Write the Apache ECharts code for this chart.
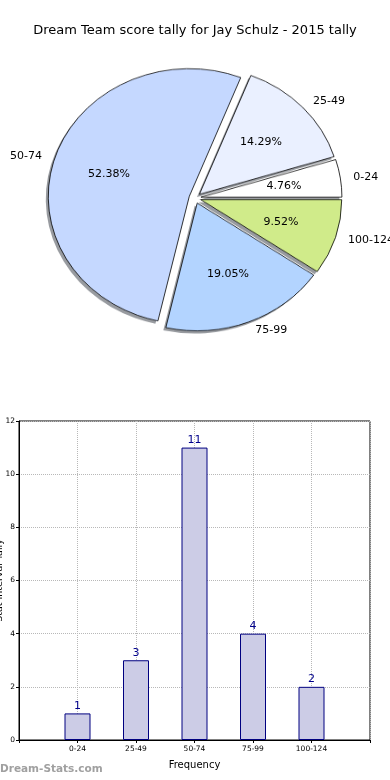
<!DOCTYPE html>
<html><head><meta charset="utf-8">
<script src="https://cdn.jsdelivr.net/npm/echarts@6/dist/echarts.min.js"></script>
<style>
html,body{margin:0;padding:0;background:#fff}
#wrap{position:relative;width:390px;height:780px}
#pie{position:absolute;left:0;top:0;width:390px;height:400px;transform:scaleY(0.906);transform-origin:0 198px}
#c{position:absolute;left:0;top:0;width:390px;height:780px}
</style>
</head><body><div id="wrap"><div id="pie"></div><div id="c"></div></div>
<script>
const titleText = 'Dream Team score tally for Jay Schulz - 2015 tally';
const categories = ['0-24', '25-49', '50-74', '75-99', '100-124'];
const counts = [1, 3, 11, 4, 2];
const pieColors = ['#ffffff', '#eaf0ff', '#c5d8ff', '#b3d4ff', '#d0eb8a'];
const yTicks = [0, 2, 4, 6, 8, 10, 12];
const xAxisTitle = 'Frequency';
const yAxisTitle = 'Stat Interval Tally';
const watermark = 'Dream-Stats.com';

const total = counts.reduce((a, b) => a + b, 0);
const FONT = 'DejaVu Sans';
const R = 141;
const CX = 195;
const CY = 198;
const CENTER = [CX, CY];
const KY = 0.906;   // vertical squash of the pie (drawn as ellipse)
const OFFSET = 6;

const pieBase = {
  type: 'pie', radius: R, startAngle: 0, clockwise: false,
  selectedMode: 'multiple', selectedOffset: OFFSET,
  avoidLabelOverlap: false, silent: true,
  label: { show: false }, labelLine: { show: false },
  emphasis: { disabled: true }
};

// Pie slices (drawn in a vertically squashed layer)
const pieChart = echarts.init(document.getElementById('pie'), null, { renderer: 'canvas' });
pieChart.setOption({
  animation: false,
  series: [
    Object.assign({}, pieBase, {
      center: [CX - 2.5, CY + 3], z: 1,
      data: categories.map((c, i) => ({ name: c, value: counts[i], selected: true })),
      itemStyle: { color: 'rgba(50,55,65,0.5)', borderWidth: 0 }
    }),
    Object.assign({}, pieBase, {
      center: CENTER, z: 2,
      data: categories.map((c, i) => ({ name: c, value: counts[i], selected: true, itemStyle: { color: pieColors[i] } })),
      itemStyle: { borderColor: '#000', borderWidth: 0.8 }
    })
  ]
});

const squashY = p => {
  const r = p.labelRect;
  const yc = r.y + r.height / 2;
  return { y: CY + (yc - CY) * KY };
};

const labelData = categories.map((c, i) => ({ name: c, value: counts[i] }));

const chart = echarts.init(document.getElementById('c'), null, { renderer: 'canvas' });
chart.setOption({
  animation: false,
  textStyle: { fontFamily: FONT },
  title: {
    text: titleText, left: 'center', top: 19,
    textStyle: { fontFamily: FONT, fontSize: 13, fontWeight: 'normal', color: '#000' }
  },
  graphic: [{
    type: 'text', left: 0, top: 764,
    style: { text: watermark, fontFamily: FONT, fontSize: 10.5, fontWeight: 'bold', fill: '#a0a0a0' }
  }],
  grid: {
    left: 19, top: 421, width: 351, height: 319, show: true, borderColor: '#000', borderWidth: 1,
    containLabel: false, outerBoundsMode: 'none'
  },
  xAxis: {
    type: 'value', min: -1, max: 5, interval: 1,
    name: xAxisTitle, nameLocation: 'middle', nameGap: 20,
    nameTextStyle: { fontFamily: FONT, fontSize: 10, color: '#000' },
    axisLine: { show: true, onZero: false, lineStyle: { color: '#000' } },
    axisTick: { show: true, length: 3, lineStyle: { color: '#000' } },
    axisLabel: {
      fontFamily: FONT, fontSize: 7.5, color: '#000', margin: 5,
      formatter: v => (categories[v] !== undefined ? categories[v] : '')
    },
    splitLine: { show: true, lineStyle: { color: '#b8b8b8', type: 'dotted' } }
  },
  yAxis: {
    type: 'value', min: yTicks[0], max: yTicks[yTicks.length - 1], interval: 2,
    name: yAxisTitle, nameLocation: 'middle', nameGap: 14, nameRotate: 90, nameMoveOverlap: false,
    nameTextStyle: { fontFamily: FONT, fontSize: 9.5, color: '#000' },
    axisLine: { show: true, onZero: false, lineStyle: { color: '#000' } },
    axisTick: { show: true, length: 3, lineStyle: { color: '#000' } },
    axisLabel: { fontFamily: FONT, fontSize: 7.5, color: '#000', margin: 4 },
    splitLine: { show: true, lineStyle: { color: '#b8b8b8', type: 'dotted' } }
  },
  series: [
    {
      type: 'pie', center: CENTER, radius: R,
      startAngle: 0, clockwise: false,
      avoidLabelOverlap: false, silent: true,
      data: labelData,
      itemStyle: { color: 'rgba(0,0,0,0)', borderWidth: 0 },
      label: {
        show: true, position: 'outside', formatter: '{b}',
        fontFamily: FONT, fontSize: 11, color: '#000', distanceToLabelLine: 3
      },
      labelLine: { show: false, length: 10 + OFFSET, length2: 0 },
      labelLayout: squashY,
      emphasis: { disabled: true }
    },
    {
      type: 'pie', center: CENTER, radius: [R * 0.2 + 2.5, R + 2.5],
      startAngle: 0, clockwise: false,
      avoidLabelOverlap: false, silent: true, z: 3,
      data: labelData,
      itemStyle: { color: 'rgba(0,0,0,0)', borderWidth: 0 },
      label: {
        show: true, position: 'inside',
        formatter: p => (p.value / total * 100).toFixed(2) + '%',
        fontFamily: FONT, fontSize: 11, color: '#000'
      },
      labelLine: { show: false },
      labelLayout: squashY,
      emphasis: { disabled: true }
    },
    {
      type: 'bar',
      data: counts.map((v, i) => [i, v]),
      barWidth: 26,
      itemStyle: { color: '#ccccE6', borderColor: '#000080', borderWidth: 1 },
      label: { show: true, position: 'top', distance: 2, fontFamily: FONT, fontSize: 11, color: '#00008b' },
      emphasis: { disabled: true }
    }
  ]
});
</script></body></html>
